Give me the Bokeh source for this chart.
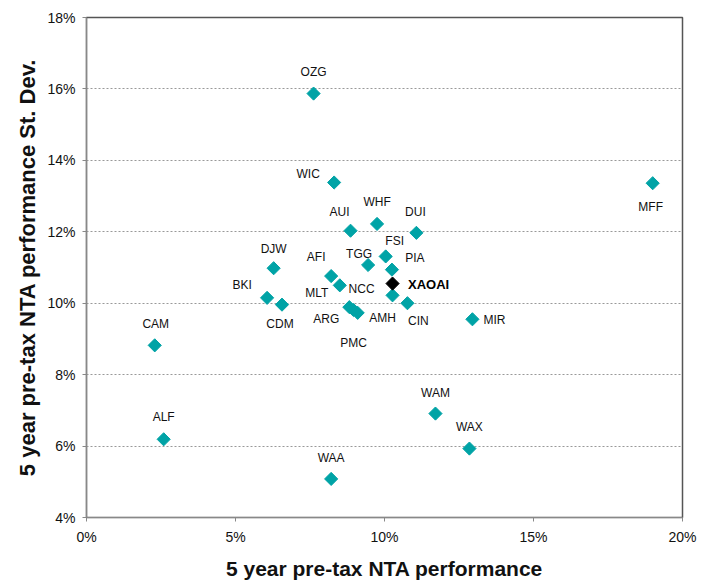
import numpy as np
from bokeh.plotting import figure
from bokeh.models import ColumnDataSource, NumeralTickFormatter, FixedTicker, Range1d
from bokeh.core.properties import value
from bokeh.embed import file_html
from bokeh.resources import INLINE

# ---- data (fractions) ----
names = ["OZG", "WIC", "AUI", "WHF", "DUI", "FSI", "TGG", "PIA", "NCC", "CIN",
         "MIR", "WAM", "WAX", "MFF", "DJW", "AFI", "MLT", "BKI", "CDM", "ARG",
         "AMH", "PMC", "CAM", "ALF", "WAA"]
perf = [0.0762, 0.0831, 0.0886, 0.0975, 0.1107, 0.1004, 0.0945, 0.1025, 0.1027, 0.1077,
        0.1295, 0.1171, 0.1285, 0.1900, 0.0628, 0.0821, 0.0850, 0.0606, 0.0656, 0.0882,
        0.0910, 0.0896, 0.0229, 0.0259, 0.0821]
stdev = [0.1587, 0.1338, 0.1203, 0.1222, 0.1197, 0.1131, 0.1107, 0.1094, 0.1022, 0.1000,
         0.0955, 0.0691, 0.0593, 0.1336, 0.1098, 0.1076, 0.1050, 0.1015, 0.0996, 0.0989,
         0.0973, 0.0981, 0.0882, 0.0619, 0.0508]

focus_name = ["XAOAI"]
focus_perf = [0.1027]
focus_stdev = [0.1055]

x_ticks = [0.0, 0.05, 0.10, 0.15, 0.20]
y_ticks = [0.04, 0.06, 0.08, 0.10, 0.12, 0.14, 0.16, 0.18]

# ---- label placement (screen pixels, centre-to-centre) ----
label_dx = [0, -26, -11, 0, -1, 9, -9, 23, -31, 11,
            22, 0, 0, -2, 0, -15, -23, -25, -2, -23,
            25, 0, 1, 0, 0]
label_dy = [-22, -9, -19, -22, -21, -15, -11, -12, -6, 18,
            1, -21, -22, 24, -19, -19, 8, -13, 19, 12,
            5, 33, -21, -22, -21]
focus_dx = [36]
focus_dy = [1]

FONT = "Liberation Sans"
TEAL = "#00A3A6"

src = ColumnDataSource(dict(x=perf, y=stdev, name=names, dx=label_dx, dy=label_dy))
fsrc = ColumnDataSource(dict(x=focus_perf, y=focus_stdev, name=focus_name,
                             dx=focus_dx, dy=focus_dy))

p = figure(width=709, height=582, output_backend="svg", toolbar_location=None,
           x_range=Range1d(0.0, 0.20), y_range=Range1d(0.04, 0.18),
           min_border_left=86, min_border_right=27, min_border_top=17,
           min_border_bottom=65)

p.background_fill_color = "white"
p.border_fill_color = "white"
p.outline_line_color = "#555555"
p.outline_line_width = 1.5

p.xgrid.grid_line_color = None
p.ygrid.grid_line_color = "#999999"
p.ygrid.grid_line_dash = "2 2"
p.ygrid.grid_line_width = 1

for ax in (p.xaxis[0], p.yaxis[0]):
    ax.axis_line_color = "#888888"
    ax.axis_line_width = 1.2
    ax.major_tick_line_color = "#888888"
    ax.major_tick_out = 4
    ax.major_tick_in = 0
    ax.minor_tick_line_color = None
    ax.major_label_text_font = FONT
    ax.major_label_text_font_size = "14px"
    ax.major_label_text_color = "#111111"
    ax.axis_label_text_font = FONT
    ax.axis_label_text_font_style = "bold"
    ax.axis_label_text_color = "#111111"
    ax.formatter = NumeralTickFormatter(format="0%")

p.xaxis.ticker = FixedTicker(ticks=x_ticks)
p.yaxis.ticker = FixedTicker(ticks=y_ticks)
p.xaxis.axis_label = "5 year pre-tax NTA performance"
p.yaxis.axis_label = "5 year pre-tax NTA performance St. Dev."
p.xaxis.axis_label_text_font_size = "21px"
p.yaxis.axis_label_text_font_size = "22px"
p.xaxis.major_label_standoff = 7
p.yaxis.major_label_standoff = 7
p.xaxis.axis_label_standoff = 9
p.yaxis.axis_label_standoff = 4

p.scatter("x", "y", source=src, marker="square", size=9.3, angle=np.pi / 4,
          fill_color=TEAL, line_color=TEAL)
p.text("x", "y", text="name", source=src, x_offset="dx", y_offset="dy",
       text_font=value(FONT), text_font_size="12px", text_color="#111111",
       text_align="center", text_baseline="middle")

p.scatter("x", "y", source=fsrc, marker="square", size=9.3, angle=np.pi / 4,
          fill_color="black", line_color="black")
p.text("x", "y", text="name", source=fsrc, x_offset="dx", y_offset="dy",
       text_font=value(FONT), text_font_size="13px", text_font_style="bold",
       text_color="black", text_align="center", text_baseline="middle")

open("out.html", "w").write(file_html(p, INLINE))
